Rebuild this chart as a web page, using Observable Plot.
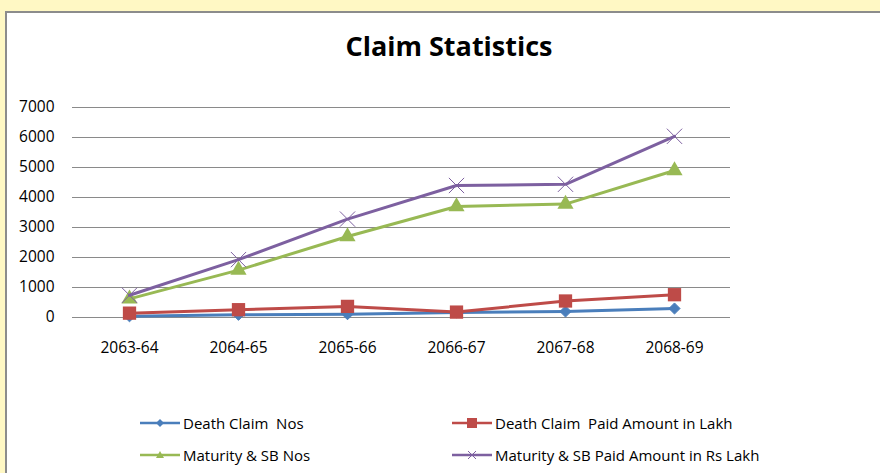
<!DOCTYPE html>
<html><head><meta charset="utf-8">
<script src="https://cdn.jsdelivr.net/npm/d3@7"></script>
<script src="https://cdn.jsdelivr.net/npm/@observablehq/plot@0.6"></script>
<style>
body{margin:0;background:#fff8c4;width:880px;height:473px;overflow:hidden;position:relative;font-family:"Open Sans",sans-serif;}
#panel{position:absolute;left:5px;top:11px;width:880px;height:470px;background:#fff;border-left:2px solid #8c8c8c;border-top:2px solid #8c8c8c;}
#title{position:absolute;left:0;top:27px;width:898px;text-align:center;font-family:"Open Sans",sans-serif;font-weight:bold;font-size:27px;color:#000;}
#chart{position:absolute;left:0;top:0;}
.leg{position:absolute;display:flex;align-items:center;font-family:"Open Sans",sans-serif;font-size:15px;color:#000;white-space:pre;}
</style></head>
<body>
<div id="panel"></div>
<div id="title">Claim Statistics</div>
<div id="chart"></div>
<div id="legend"></div>
<script>
const categories = ["2063-64","2064-65","2065-66","2066-67","2067-68","2068-69"];
const deathClaimNos = [40, 90, 110, 170, 200, 300];
const deathClaimPaid = [145, 260, 370, 180, 550, 760];
const maturityNos = [620, 1580, 2700, 3700, 3780, 4900];
const maturityPaid = [740, 1930, 3280, 4400, 4440, 6040];
const yTicks = [0,1000,2000,3000,4000,5000,6000,7000];
const seriesNames = ["Death Claim  Nos","Death Claim  Paid Amount in Lakh","Maturity & SB Nos","Maturity & SB Paid Amount in Rs Lakh"];
const seriesValues = [deathClaimNos, deathClaimPaid, maturityNos, maturityPaid];
const colors = ["#4a7ebb","#be4b48","#98b954","#7d60a0"];
const symbols = ["diamond2","square","triangle","times"];

const data = [];
seriesNames.forEach((s,i)=>categories.forEach((c,j)=>data.push({series:s, cat:c, v:seriesValues[i][j], idx:i})));

const marks = [
  Plot.ruleY(yTicks, {stroke:"#8a8a8a", strokeWidth:1, strokeOpacity:1})
];
seriesNames.forEach((s,i)=>{
  const d = data.filter(e=>e.idx===i);
  marks.push(Plot.line(d, {x:"cat", y:"v", stroke:colors[i], strokeWidth:3}));
  if (symbols[i]==="times") {
    marks.push(Plot.dot(d, {x:"cat", y:"v", symbol:"times", r:7, stroke:colors[i], strokeWidth:1}));
  } else if (symbols[i]==="diamond2") {
    marks.push(Plot.dot(d, {x:"cat", y:"v", symbol:"diamond2", r:5, fill:colors[i], stroke:colors[i], strokeWidth:1}));
  } else {
    marks.push(Plot.dot(d, {x:"cat", y:"v", symbol:symbols[i], r: symbols[i]==="square"?7.5:6, fill:colors[i], stroke:"none"}));
  }
});

const plot = Plot.plot({
  width:880, height:370,
  marginLeft:72, marginRight:150, marginTop:107, marginBottom:53,
  style:{fontFamily:"Open Sans, sans-serif", fontSize:"15.5px", color:"#000", background:"transparent"},
  x:{type:"point", domain:categories, padding:0.5, label:null, tickSize:0, tickPadding:24},
  y:{domain:[0,7000], ticks:yTicks, label:null, tickSize:0, tickPadding:18, tickFormat:d=>String(d)},
  marks
});
document.getElementById("chart").appendChild(plot);

// legend
const legPos = [[140,413],[452,413],[140,445],[452,445]];
const legend = document.getElementById("legend");
seriesNames.forEach((s,i)=>{
  const div = document.createElement("div");
  div.className="leg";
  div.style.left = legPos[i][0]+"px";
  div.style.top = legPos[i][1]+"px";
  let mk = "";
  const c = colors[i];
  if (symbols[i]==="diamond2") mk = `<path d="M20,6 L24,10 L20,14 L16,10 Z" fill="${c}"/>`;
  if (symbols[i]==="square") mk = `<rect x="15" y="5" width="10" height="10" fill="${c}"/>`;
  if (symbols[i]==="triangle") mk = `<path d="M20,6 L24,13 L16,13 Z" fill="${c}"/>`;
  if (symbols[i]==="times") mk = `<path d="M16,6 L24,14 M24,6 L16,14" stroke="${c}" stroke-width="1"/>`;
  div.innerHTML = `<svg width="40" height="20"><line x1="0" y1="10" x2="40" y2="10" stroke="${c}" stroke-width="2.5"/>${mk}</svg><span style="margin-left:3px">${s}</span>`;
  legend.appendChild(div);
});
</script>
</body></html>
